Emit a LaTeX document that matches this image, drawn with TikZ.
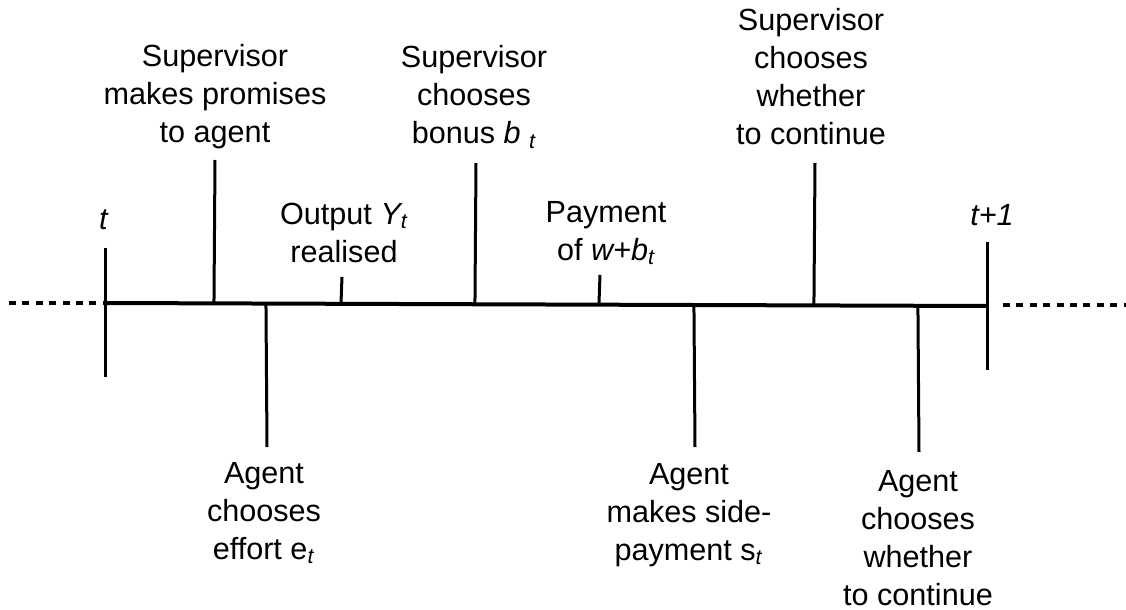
\documentclass[tikz,border=0pt]{standalone}
\usepackage{fontspec}
\setmainfont{Liberation Sans}
\usetikzlibrary{calc}

\begin{document}
\begin{tikzpicture}[x=0.5pt,y=-0.5pt,
    lbl/.style={align=center,inner sep=0pt,font=\fontsize{15.3}{19}\selectfont},
    tick/.style={line width=1.5pt},
    axis/.style={line width=2pt},
    more/.style={line width=1.7pt,dash pattern=on 3.5pt off 3.2pt}]
    \useasboundingbox (0,0) rectangle (1126,610);
    % time axis
    \coordinate (L) at (105,303);
    \coordinate (R) at (987,306);
    \coordinate (Lout) at (9,303);
    \coordinate (Rout) at (1126,305);
    \draw[axis] (L)--(R);
    \draw[more] (Lout)--(L);
    \draw[more] ($(R)+(16,-1)$)--(Rout);
    % ticks: x / top / bottom
    \foreach \x/\a/\b in {105/248/377, 987/242/370}
      \draw[tick] (\x,\a)--(\x,\b);
    \foreach \x/\a in {215/160, 342/277, 476/163, 600/275, 815/163,
                       267/447, 695/447, 919/452}
      \draw[tick] ($(L)!(\x,0)!(R)$)--(\x,\a);
    % labels above
    \node[lbl] (lt) at (104,220) {\textit{t}};
    \node[lbl] (lpromise) at (215,97) {Supervisor\\makes promises\\to agent};
    \node[lbl] (loutput) at (344,233) {Output \textit{Y\textsubscript{t}}\\realised};
    \node[lbl] (lbonus) at (474,97) {Supervisor\\chooses\\bonus \textit{b \textsubscript{t}}};
    \node[lbl] (lpay) at (606,233) {Payment\\of \textit{w+b\textsubscript{t}}};
    \node[lbl] (lcontsup) at (811,77) {Supervisor\\chooses\\whether\\to continue};
    \node[lbl] (lt1) at (992,215) {\textit{t+1}};
    % labels below
    \node[lbl] (leffort) at (264,513) {Agent\\chooses\\effort e\textsubscript{\textit{t}}};
    \node[lbl] (lside) at (689,515) {Agent\\makes side-\\payment s\textsubscript{\textit{t}}};
    \node[lbl] (lcontag) at (918,538) {Agent\\chooses\\whether\\to continue};
  \end{tikzpicture}
\end{document}
